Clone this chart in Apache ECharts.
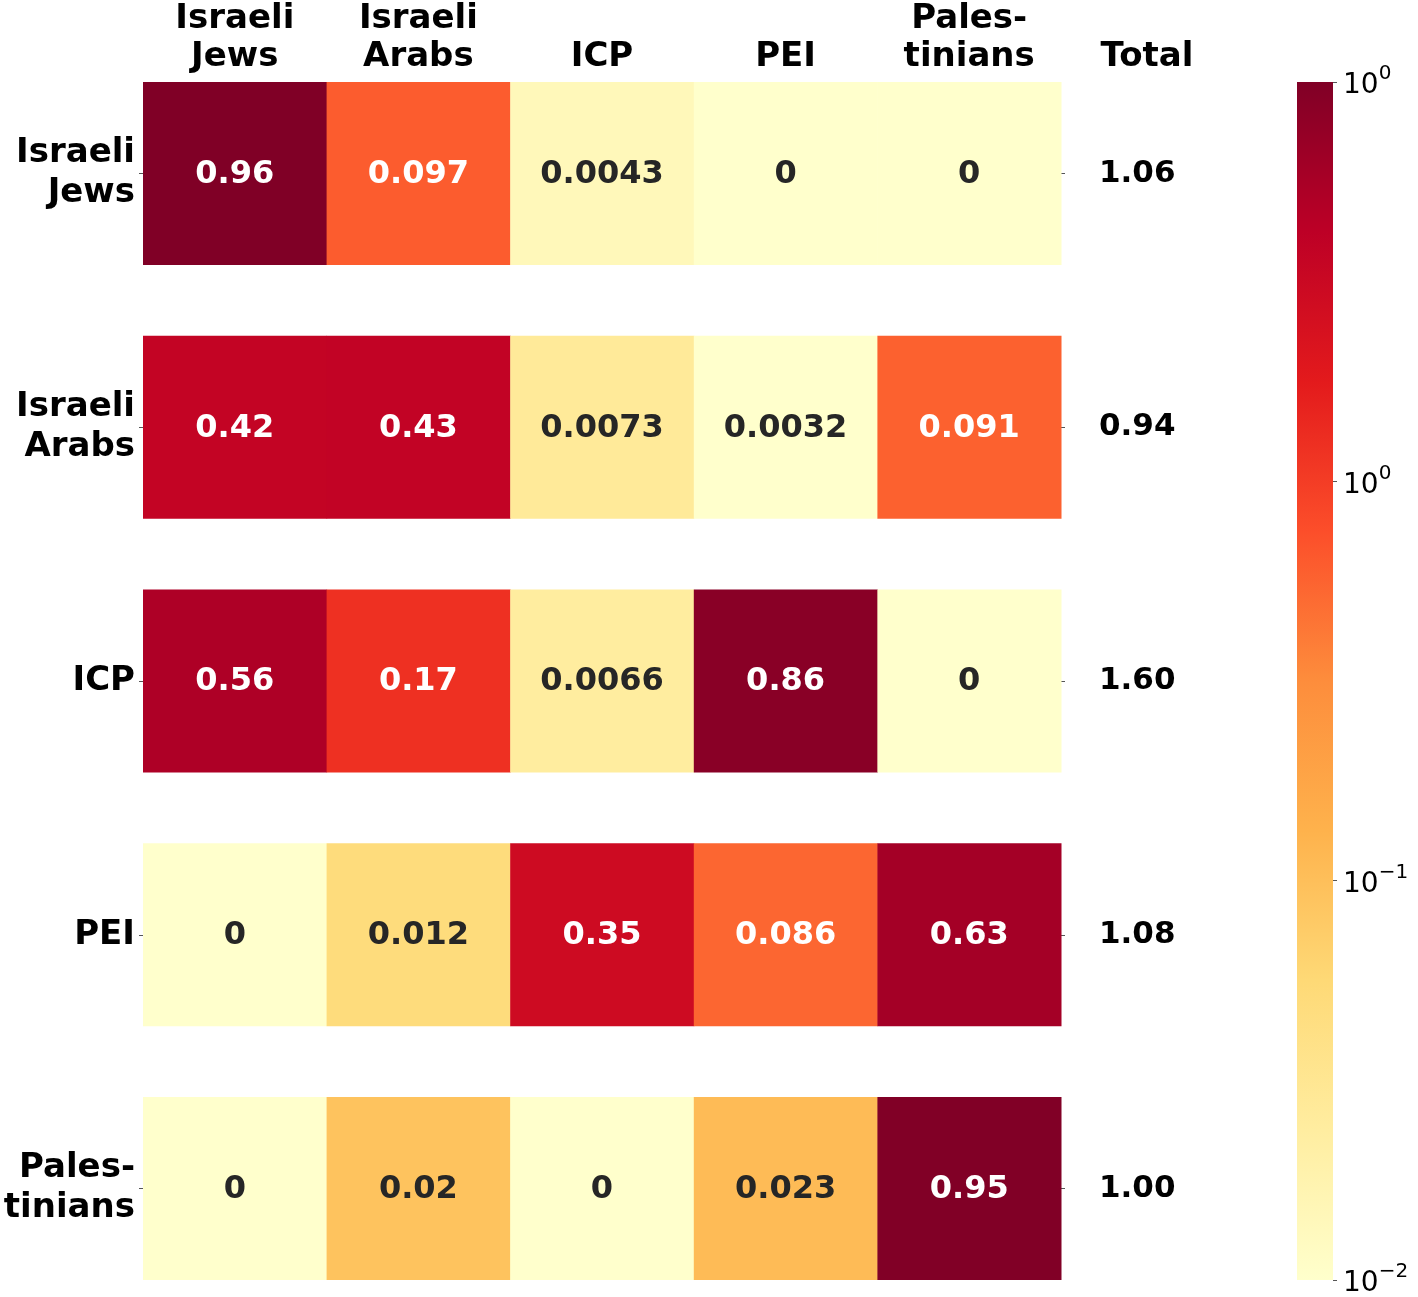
<!DOCTYPE html>
<html>
<head>
<meta charset="utf-8">
<script src="https://cdn.jsdelivr.net/npm/echarts@6/dist/echarts.min.js"></script>
<style>html,body{margin:0;padding:0;background:#fff;}#chart{width:1418px;height:1297px;}</style>
</head>
<body>
<div id="chart"></div>
<script>
const rowLabels = ['Israeli\nJews', 'Israeli\nArabs', 'ICP', 'PEI', 'Pales-\ntinians'];
const colLabels = ['Israeli\nJews', 'Israeli\nArabs', 'ICP', 'PEI', 'Pales-\ntinians'];
const row0 = [0.96, 0.097, 0.0043, 0, 0];
const row1 = [0.42, 0.43, 0.0073, 0.0032, 0.091];
const row2 = [0.56, 0.17, 0.0066, 0.86, 0];
const row3 = [0, 0.012, 0.35, 0.086, 0.63];
const row4 = [0, 0.02, 0, 0.023, 0.95];
const totals = ['1.06', '0.94', '1.60', '1.08', '1.00'];
const cbTickValues = [0, 1, 2, 3];
const cbTickExponents = ['\u22122', '\u22121', '0', '0'];
const normMin = 0.0032;
const normMax = 0.96;

const YlOrRd = ['#ffffcc','#ffeda0','#fed976','#feb24c','#fd8d3c','#fc4e2a','#e31a1c','#bd0026','#800026'];
const FONT = 'DejaVu Sans';
const rows = [row0, row1, row2, row3, row4];
const lmin = Math.log10(normMin), lmax = Math.log10(normMax);
const data = [];
rows.forEach((r, y) => r.forEach((v, x) => {
  const lv = Math.log10(Math.max(v, normMin));
  data.push([x, y, v, lv]);
}));

const chart = echarts.init(document.getElementById('chart'), null, {renderer: 'canvas'});
const bandH = 253.75;
const cellH = 183;
const option = {
  animation: false,
  backgroundColor: '#fff',
  grid: [
    {left: 143, top: 82 - (bandH - cellH) / 2, width: 918, height: bandH * 5, outerBoundsMode: 'none', containLabel: false},
    {left: 1297, top: 82, width: 36, height: 1198, outerBoundsMode: 'none', containLabel: false},
    {left: 143, top: 82, width: 918, height: 1198, outerBoundsMode: 'none', containLabel: false}
  ],
  xAxis: [
    {type: 'category', gridIndex: 0, data: colLabels, show: false},
    {type: 'category', gridIndex: 1, data: ['cb'], show: false},
    {
      type: 'category', gridIndex: 2, data: colLabels, position: 'top',
      axisLine: {show: false},
      axisTick: {show: true, alignWithLabel: true, length: 4, lineStyle: {color: '#555', width: 1}},
      axisLabel: {fontFamily: FONT, fontWeight: 'bold', fontSize: 34, color: '#000', lineHeight: 38, margin: 6, interval: 0},
      splitLine: {show: false}
    }
  ],
  yAxis: [
    {
      type: 'category', gridIndex: 0, data: rowLabels, inverse: true, position: 'left',
      axisLine: {show: false},
      axisTick: {show: true, alignWithLabel: true, length: 4, lineStyle: {color: '#555', width: 1}},
      axisLabel: {fontFamily: FONT, fontWeight: 'bold', fontSize: 34, color: '#000', lineHeight: 40, margin: 8, align: 'right', interval: 0, padding: [4, 0, 0, 0]},
      splitLine: {show: false}
    },
    {
      type: 'category', gridIndex: 0, data: totals, inverse: true, position: 'right',
      axisLine: {show: false},
      axisTick: {show: true, alignWithLabel: true, length: 4, lineStyle: {color: '#555', width: 1}},
      axisLabel: {fontFamily: FONT, fontWeight: 'bold', fontSize: 31, color: '#000', margin: 38, align: 'left', interval: 0, padding: [3, 0, 0, 0]},
      splitLine: {show: false}
    },
    {
      type: 'value', gridIndex: 1, min: 0, max: 3, interval: 1, position: 'right',
      axisLine: {show: false},
      axisTick: {show: true, length: 4, lineStyle: {color: '#555', width: 1}},
      splitLine: {show: false},
      axisLabel: {
        margin: 10, align: 'left',
        formatter: function (val) {
          const i = cbTickValues.indexOf(Math.round(val));
          return '{a|10}{b|' + cbTickExponents[i] + '}';
        },
        rich: {
          a: {fontFamily: FONT, fontSize: 28, color: '#000', verticalAlign: 'bottom'},
          b: {fontFamily: FONT, fontSize: 20, color: '#000', verticalAlign: 'bottom', padding: [0, 0, 16, 0]}
        }
      }
    },
    {type: 'value', gridIndex: 2, show: false, min: 0, max: 1}
  ],
  visualMap: {
    type: 'continuous', show: false, seriesIndex: 0, dimension: 3,
    min: lmin, max: lmax, inRange: {color: YlOrRd}
  },
  series: [
    {
      type: 'custom', xAxisIndex: 0, yAxisIndex: 0, data: data,
      encode: {x: 0, y: 1},
      renderItem: function (params, api) {
        const c = api.coord([api.value(0), api.value(1)]);
        const s = api.size([1, 1]);
        const w = s[0], h = s[1] * cellH / bandH;
        const v = api.value(2);
        const t = (api.value(3) - lmin) / (lmax - lmin);
        return {
          type: 'group',
          children: [
            {type: 'rect', shape: {x: c[0] - w / 2, y: c[1] - h / 2, width: w + 0.5, height: h}, style: {fill: api.visual('color')}},
            {type: 'text', x: c[0], y: c[1] + 1, style: {text: String(v), fill: t > 0.45 ? '#ffffff' : '#262626', font: 'bold 32px "DejaVu Sans"', align: 'center', verticalAlign: 'middle'}}
          ]
        };
      }
    },
    {
      type: 'bar', xAxisIndex: 1, yAxisIndex: 2, data: [3], barWidth: '100%', silent: true,
      itemStyle: {
        color: {
          type: 'linear', x: 0, y: 1, x2: 0, y2: 0,
          colorStops: YlOrRd.map((c, i) => ({offset: i / (YlOrRd.length - 1), color: c}))
        }
      }
    }
  ],
  graphic: [
    {type: 'text', x: 1147, y: 57, style: {text: 'Total', font: 'bold 34px "DejaVu Sans"', fill: '#000', align: 'center', verticalAlign: 'middle'}}
  ]
};
chart.setOption(option);
</script>
</body>
</html>
